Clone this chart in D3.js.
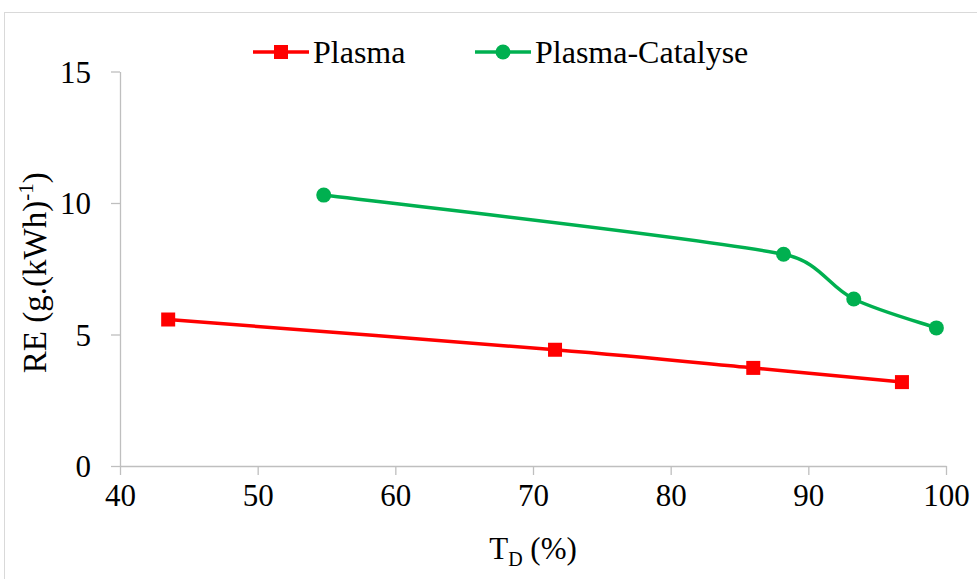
<!DOCTYPE html>
<html><head><meta charset="utf-8">
<script src="https://cdn.jsdelivr.net/npm/d3@7"></script>
<style>body{margin:0;background:#fff}svg{display:block}svg text{font-family:"Liberation Serif","Times New Roman",serif !important;fill:#000}</style>
</head><body>
<svg id="c" width="977" height="579"></svg>
<script>
const plasmaX = [43.5, 71.6, 86.0, 96.8];
const plasmaY = [5.57, 4.42, 3.73, 3.19];
const catX = [54.8, 88.2, 93.3, 99.3];
const catY = [10.3, 8.05, 6.35, 5.25];
const xTicks = [40, 50, 60, 70, 80, 90, 100];
const yTicks = [0, 5, 10, 15];
const seriesNames = ["Plasma", "Plasma-Catalyse"];

const FONT = '"Liberation Serif","Times New Roman",serif';
const svg = d3.select("#c");
const W = 977, H = 579;
svg.append("rect").attr("x", 4.5).attr("y", 12.5).attr("width", W + 10).attr("height", H + 10)
  .attr("fill", "#fff").attr("stroke", "#d9d9d9").attr("stroke-width", 1);

const x = d3.scaleLinear().domain([40, 100]).range([120, 946]);
const y = d3.scaleLinear().domain([0, 15]).range([466, 71.5]);
const axisColor = "#bfbfbf";

const gx = svg.append("g").attr("transform", `translate(0,${y(0)})`)
  .call(d3.axisBottom(x).tickValues(xTicks).tickSize(9).tickPadding(9).tickSizeOuter(0));
const gy = svg.append("g").attr("transform", `translate(${x(40)},0)`)
  .call(d3.axisLeft(y).tickValues(yTicks).tickSize(9).tickPadding(20).tickSizeOuter(0));
[gx, gy].forEach(g => {
  g.attr("font-family", FONT).attr("font-size", 31);
  g.selectAll("path,line").attr("stroke", axisColor).attr("stroke-width", 1.3);
  g.selectAll("text").style("font-family", FONT).style("font-size", "31px").attr("fill", "#000");
});
gy.selectAll("text").attr("dy", "0.34em");

// Axis titles
const yt = svg.append("text").attr("transform", `translate(46,${(y(0) + y(15)) / 2 + 4}) rotate(-90)`)
  .attr("text-anchor", "middle").style("font-size", "33px");
yt.append("tspan").text("RE (g.(kWh)");
yt.append("tspan").style("font-size", "21px").attr("dy", -13).text("-1");
yt.append("tspan").attr("dy", 13).text(")");

const xt = svg.append("text").attr("x", (x(40) + x(100)) / 2).attr("y", 559)
  .attr("text-anchor", "middle").style("font-size", "31px");
xt.append("tspan").text("T");
xt.append("tspan").style("font-size", "20px").attr("dy", 7).text("D");
xt.append("tspan").attr("dy", -7).text(" (%)");

// Excel-like smoothed line: Catmull-Rom tangents with arm length clamped to the segment
function smoothPath(data) {
  const p = data.map(d => [x(d[0]), y(d[1])]);
  const n = p.length, path = d3.path();
  const dist = (a, b) => Math.hypot(b[0] - a[0], b[1] - a[1]);
  const arms = p.map((pt, i) => {
    const prev = p[Math.max(0, i - 1)], next = p[Math.min(n - 1, i + 1)];
    return [(next[0] - prev[0]) / 6, (next[1] - prev[1]) / 6];
  });
  const clamp = (a, len) => {
    const l = Math.hypot(a[0], a[1]);
    const m = 0.45 * len;
    return l > m && l > 0 ? [a[0] * m / l, a[1] * m / l] : a;
  };
  path.moveTo(p[0][0], p[0][1]);
  for (let i = 0; i < n - 1; i++) {
    const L = dist(p[i], p[i + 1]);
    const a0 = clamp(arms[i], L), a1 = clamp(arms[i + 1], L);
    path.bezierCurveTo(p[i][0] + a0[0], p[i][1] + a0[1], p[i + 1][0] - a1[0], p[i + 1][1] - a1[1], p[i + 1][0], p[i + 1][1]);
  }
  return path.toString();
}

const red = "#ff0000", green = "#00b050";
const pData = plasmaX.map((v, i) => [v, plasmaY[i]]);
const cData = catX.map((v, i) => [v, catY[i]]);

svg.append("path").attr("d", smoothPath(pData)).attr("fill", "none").attr("stroke", red).attr("stroke-width", 3.5);
svg.append("path").attr("d", smoothPath(cData)).attr("fill", "none").attr("stroke", green).attr("stroke-width", 3.5);
svg.selectAll(".sq").data(pData).enter().append("rect")
  .attr("x", d => x(d[0]) - 7).attr("y", d => y(d[1]) - 7).attr("width", 14).attr("height", 14).attr("fill", red);
svg.selectAll(".ci").data(cData).enter().append("circle")
  .attr("cx", d => x(d[0])).attr("cy", d => y(d[1])).attr("r", 7.5).attr("fill", green);

// Legend
const ly = 52;
const leg = [{name: seriesNames[0], c: red, x0: 253, type: "sq"}, {name: seriesNames[1], c: green, x0: 475, type: "ci"}];
leg.forEach(l => {
  svg.append("line").attr("x1", l.x0).attr("x2", l.x0 + 56).attr("y1", ly).attr("y2", ly)
    .attr("stroke", l.c).attr("stroke-width", 3.5);
  if (l.type === "sq") svg.append("rect").attr("x", l.x0 + 28 - 7).attr("y", ly - 7).attr("width", 14).attr("height", 14).attr("fill", l.c);
  else svg.append("circle").attr("cx", l.x0 + 28).attr("cy", ly).attr("r", 7.5).attr("fill", l.c);
  svg.append("text").attr("x", l.x0 + 60).attr("y", ly + 11).style("font-size", "32px").text(l.name);
});
</script>
</body></html>
